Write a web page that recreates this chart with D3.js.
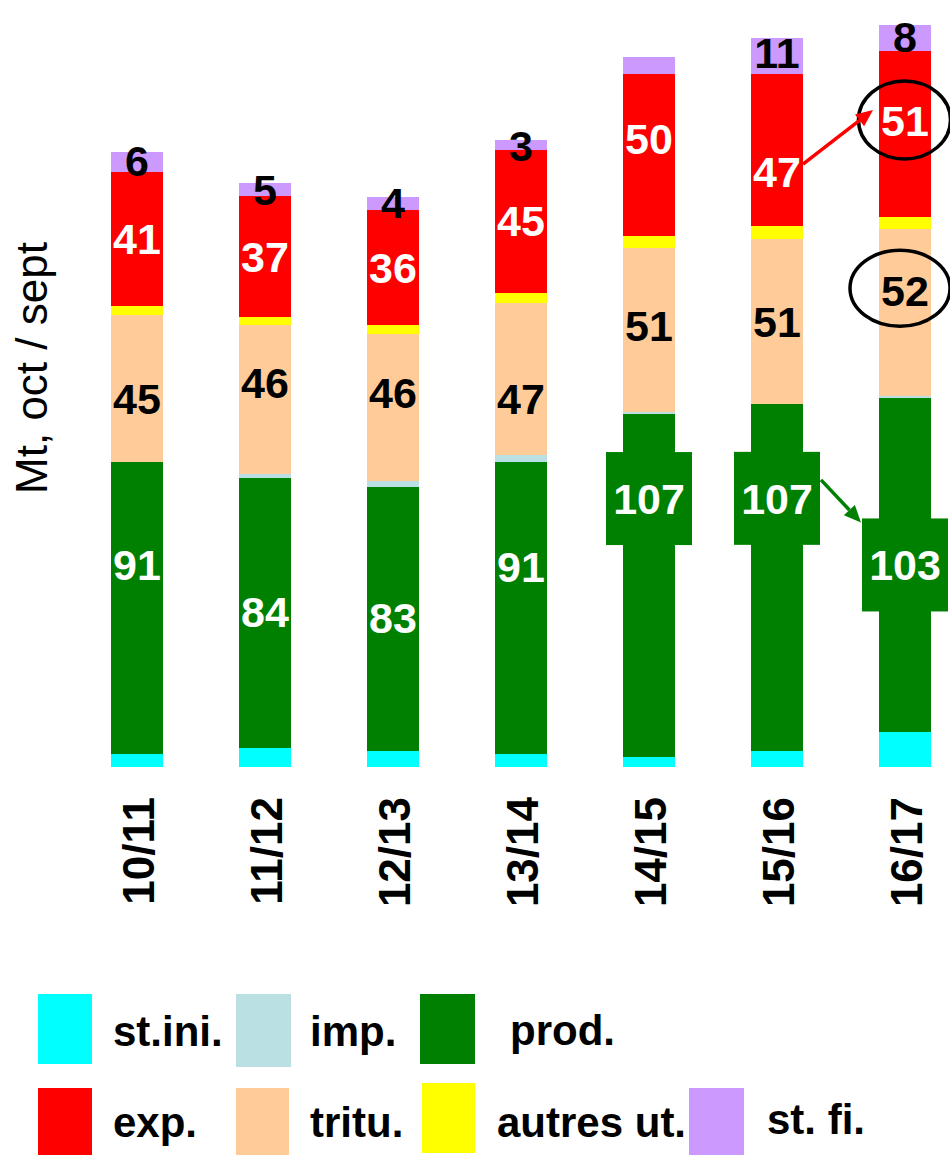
<!DOCTYPE html>
<html><head><meta charset="utf-8">
<script src="https://cdn.jsdelivr.net/npm/d3@7"></script>
<style>html,body{margin:0;padding:0;background:#fff;} svg{display:block;}</style>
</head><body>
<svg id="chart" width="950" height="1155"></svg>
<script>
// ---------- DATA ----------
const categories = ["10/11","11/12","12/13","13/14","14/15","15/16","16/17"];
const stIni  = [4.0, 5.9, 5.0, 4.0, 3.1, 5.0, 10.9];
const imp    = [0.0, 1.3, 1.9, 2.2, 0.8, 0.0, 0.7];
const prod   = [90.7, 83.9, 82.0, 90.7, 106.5, 107.8, 103.7];
const tritu  = [45.7, 46.3, 45.7, 47.2, 50.7, 51.2, 51.8];
const autres = [2.8, 2.2, 2.7, 3.1, 3.7, 4.0, 3.7];
const exp    = [41.5, 37.6, 35.7, 44.4, 50.3, 47.2, 51.6];
const stFi   = [6.2, 4.2, 4.0, 3.1, 5.3, 11.2, 8.1];

const prodLabels  = ["91","84","83","91","107","107","103"];
const trituLabels = ["45","46","46","47","51","51","52"];
const expLabels   = ["41","37","36","45","50","47","51"];
const stFiLabels  = ["6","5","4","3","","11","8"];

const seriesNames = ["st.ini.","imp.","prod.","tritu.","autres ut.","exp.","st. fi."];
const yTitle = "Mt, oct / sept";

// ---------- LAYOUT / STYLE ----------
const FONT = '"Liberation Sans", Arial, Helvetica, sans-serif';
const legendKeys = ["stIni","imp","prod","tritu","autres","exp","stFi"];
const stackKeys  = ["stIni","prod","imp","tritu","autres","exp","stFi"];
const colors = {stIni:"#00FFFF", imp:"#BBE0E3", prod:"#008000", tritu:"#FFCC99",
                autres:"#FFFF00", exp:"#FF0000", stFi:"#CC99FF"};
// label nudges (px) relative to segment centre
const prodNudge  = [-43,-1,-1,-41,-87,-79,0];
const trituNudge = [10,-17,-15,20,-4,0,-22];
const expNudge   = [0,0,0,-1,-17,22,-13];
const stFiNudge  = [-2,0,-1,1,0,-3,-1];
const LABEL_FS = 43;

const svg = d3.select("#chart");
const x = d3.scaleBand().domain(categories).range([73, 969])
  .paddingInner(76/128).paddingOuter(38/128);
const y = d3.scaleLinear().domain([0, 230]).range([767, 767 - 230*3.22]);

const seriesArr = {stIni, imp, prod, tritu, autres, exp, stFi};
const table = categories.map((c,i) => {
  const o = {cat: c};
  stackKeys.forEach(k => o[k] = seriesArr[k][i]);
  return o;
});
const stacked = d3.stack().keys(stackKeys)(table);

// bars
svg.append("g").selectAll("g").data(stacked).join("g")
  .attr("fill", d => colors[d.key])
  .selectAll("rect").data(d => d).join("rect")
  .attr("x", d => x(d.data.cat))
  .attr("width", x.bandwidth())
  .attr("y", d => y(d[1]))
  .attr("height", d => Math.max(0, y(d[0]) - y(d[1])))
  .attr("shape-rendering","crispEdges");

// segment label centres
const byKey = {};
stacked.forEach(s => byKey[s.key] = s);
function centres(key, nudge) {
  return byKey[key].map((d,i) => (y(d[0]) + y(d[1]))/2 + nudge[i]);
}
const prodC = centres("prod", prodNudge);
const trituC = centres("tritu", trituNudge);
const expC = centres("exp", expNudge);
const stFiC = centres("stFi", stFiNudge);
const cx = c => x(c) + x.bandwidth()/2;

// boxes for wide prod labels
const BOX_W = 86, BOX_H = 93;
const boxed = prodLabels.map(t => t.length > 2);
svg.append("g").selectAll("rect")
  .data(categories.filter((c,i) => boxed[i]))
  .join("rect")
  .attr("x", c => cx(c) - BOX_W/2)
  .attr("y", c => prodC[categories.indexOf(c)] - BOX_H/2)
  .attr("width", BOX_W).attr("height", BOX_H)
  .attr("fill", colors.prod);

function drawLabels(labels, ctr, fill) {
  svg.append("g").selectAll("text")
    .data(categories.map((c,i) => ({c, t: labels[i], yc: ctr[i]})).filter(d => d.t !== ""))
    .join("text")
    .attr("x", d => cx(d.c))
    .attr("y", d => d.yc + 0.358*LABEL_FS)
    .attr("text-anchor","middle")
    .attr("font-family", FONT).attr("font-weight","bold")
    .attr("font-size", LABEL_FS).attr("fill", fill)
    .text(d => d.t);
}
drawLabels(prodLabels, prodC, "#fff");
drawLabels(trituLabels, trituC, "#000");
drawLabels(expLabels, expC, "#fff");
drawLabels(stFiLabels, stFiC, "#000");

// ellipses around last-year labels
const last = categories.length - 1;
const cLast = cx(categories[last]);
svg.append("ellipse").attr("cx", cLast - 0.5).attr("cy", expC[last] - 1)
  .attr("rx", 46).attr("ry", 39).attr("fill","none").attr("stroke","#000").attr("stroke-width",3.5);
svg.append("ellipse").attr("cx", cLast - 5).attr("cy", trituC[last] - 2)
  .attr("rx", 50).attr("ry", 38).attr("fill","none").attr("stroke","#000").attr("stroke-width",3.5);

// arrows
function arrow(x1,y1,x2,y2,color) {
  const ang = Math.atan2(y2-y1, x2-x1);
  const L = 17, W = 7.5;
  const bx = x2 - L*Math.cos(ang), by = y2 - L*Math.sin(ang);
  svg.append("line").attr("x1",x1).attr("y1",y1).attr("x2",bx).attr("y2",by)
    .attr("stroke",color).attr("stroke-width",3.5);
  const px = -Math.sin(ang)*W, py = Math.cos(ang)*W;
  svg.append("polygon")
    .attr("points", [[x2,y2],[bx+px,by+py],[bx-px,by-py]].map(p=>p.join(",")).join(" "))
    .attr("fill", color);
}
const prev = last - 1;
arrow(x(categories[prev]) + x.bandwidth(), expC[prev] - 8,
      x(categories[last]) - 6, expC[last] - 11, "#FF0000");
arrow(cx(categories[prev]) + BOX_W/2 + 1, prodC[prev] - BOX_H/2 + 28,
      cLast - BOX_W/2 - 1, prodC[last] - BOX_H/2 + 4, "#008000");

// x axis (rotated tick labels)
const xAxis = svg.append("g").attr("transform","translate(0,797)")
  .call(d3.axisBottom(x).tickSize(0).tickPadding(0));
xAxis.select(".domain").remove();
xAxis.selectAll("text")
  .attr("transform","rotate(-90)")
  .attr("x",0).attr("y",17).attr("dy",null)
  .attr("text-anchor","end")
  .attr("font-family",FONT).attr("font-weight","bold")
  .attr("font-size",44).attr("fill","#000");

// y title
svg.append("text")
  .attr("transform","translate(47,368) rotate(-90)")
  .attr("text-anchor","middle")
  .attr("font-family",FONT).attr("font-size",44).attr("fill","#000")
  .text(yTitle);

// legend
const legendLayout = [
  {rx:38, ry:994, rw:54, rh:70, tx:113, ty:1046},
  {rx:236, ry:994, rw:55, rh:73, tx:310, ty:1046},
  {rx:420, ry:994, rw:55, rh:70, tx:510, ty:1045},
  {rx:236, ry:1088, rw:53, rh:70, tx:310, ty:1137},
  {rx:422, ry:1083, rw:53, rh:70, tx:497, ty:1137},
  {rx:38, ry:1088, rw:54, rh:70, tx:113, ty:1137},
  {rx:689, ry:1088, rw:55, rh:70, tx:767, ty:1134}
];
const lg = svg.append("g").selectAll("g")
  .data(legendKeys.map((k,i) => ({k, name: seriesNames[i], L: legendLayout[i]})))
  .join("g");
lg.append("rect").attr("x", d=>d.L.rx).attr("y", d=>d.L.ry)
  .attr("width", d=>d.L.rw).attr("height", d=>d.L.rh).attr("fill", d=>colors[d.k]);
lg.append("text").attr("x", d=>d.L.tx).attr("y", d=>d.L.ty)
  .attr("font-family",FONT).attr("font-weight","bold").attr("font-size",42)
  .attr("fill","#000").text(d=>d.name);
</script>
</body></html>
